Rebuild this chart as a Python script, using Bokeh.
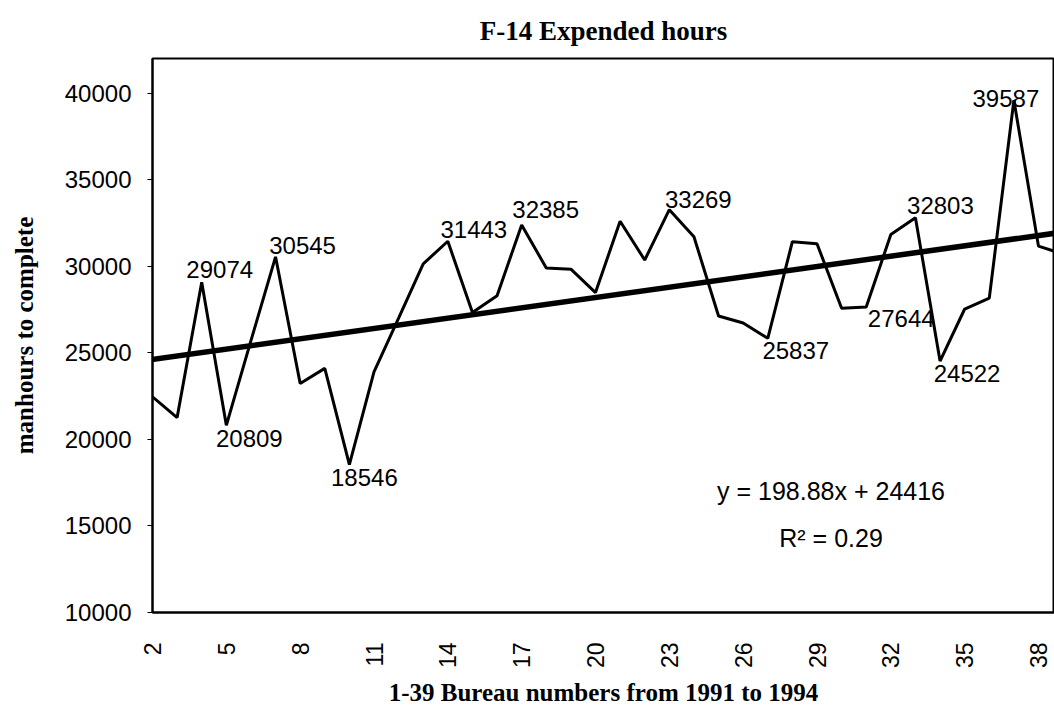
import math
from bokeh.plotting import figure
from bokeh.models import FixedTicker, Slope, Label, ColumnDataSource, Range1d
from bokeh.core.properties import value
from bokeh.embed import file_html
from bokeh.resources import INLINE

# ---- data ----
categories = list(range(2, 40))
hours = [22460, 21260, 29074, 20809, 25700, 30545, 23230, 24100, 18546, 23900,
         27000, 30140, 31443, 27330, 28300, 32385, 29900, 29830, 28480, 32600,
         30360, 33269, 31700, 27130, 26720, 25837, 31420, 31300, 27570, 27644,
         31830, 32803, 24522, 27530, 28160, 39587, 31160, 30700]
labeled_categories = [4, 5, 7, 10, 14, 17, 23, 27, 31, 33, 34, 37]

x_ticks = [2, 5, 8, 11, 14, 17, 20, 23, 26, 29, 32, 35, 38]
x_tick_labels = ["2", "5", "8", "11", "14", "17", "20", "23", "26", "29", "32", "35", "38"]
y_ticks = [10000, 15000, 20000, 25000, 30000, 35000, 40000]
y_tick_labels = ["10000", "15000", "20000", "25000", "30000", "35000", "40000"]

trend_slope = 198.88
trend_intercept = 24416
r_squared = 0.29

# ---- label layout (pixel offsets of each data label from its point) ----
label_dx = [18, 23, 27, 15, 26, 24, 29, 28, 35, 25, 27, -8]
label_dy = [-13, 13, -11, 13, -12, -15, -10, 12, 11, -12, 12, -2]

SANS = "Liberation Sans"
SERIF = "Liberation Serif"

p = figure(width=1054, height=709,
           x_range=Range1d(2, 38.65), y_range=Range1d(10000, 42000),
           output_backend="svg", toolbar_location=None,
           min_border_left=152, min_border_right=0,
           min_border_top=57, min_border_bottom=95)

p.background_fill_color = "white"
p.border_fill_color = "white"
p.outline_line_color = "black"
p.outline_line_width = 2
p.xgrid.grid_line_color = None
p.ygrid.grid_line_color = None

# title
p.title.text = "F-14 Expended hours"
p.title.align = "center"
p.title.text_font = SERIF
p.title.text_font_style = "bold"
p.title.text_font_size = "27px"
p.title.text_color = "black"
p.title.standoff = 26

# x axis
xa = p.xaxis[0]
xa.ticker = FixedTicker(ticks=x_ticks)
xa.major_label_overrides = {t: l for t, l in zip(x_ticks, x_tick_labels)}
xa.major_label_orientation = math.pi / 2
xa.major_tick_out = 0
xa.major_tick_in = 0
xa.minor_tick_out = 0
xa.minor_tick_in = 0
xa.major_label_standoff = 30
xa.major_label_text_font = SANS
xa.major_label_text_font_size = "23px"
xa.major_label_text_color = "black"
xa.axis_line_width = 2
xa.axis_label = "1-39 Bureau numbers from 1991 to 1994"
xa.axis_label_text_font = SERIF
xa.axis_label_text_font_style = "bold"
xa.axis_label_text_font_size = "25px"
xa.axis_label_text_color = "black"
xa.axis_label_standoff = 8

# y axis
ya = p.yaxis[0]
ya.ticker = FixedTicker(ticks=y_ticks)
ya.major_label_overrides = {t: l for t, l in zip(y_ticks, y_tick_labels)}
ya.major_tick_out = 5
ya.major_tick_in = 0
ya.minor_tick_out = 0
ya.minor_tick_in = 0
ya.major_label_standoff = 16
ya.major_label_text_font = SANS
ya.major_label_text_font_size = "24px"
ya.major_label_text_color = "black"
ya.axis_line_width = 2
ya.axis_label = "manhours to complete"
ya.axis_label_text_font = SERIF
ya.axis_label_text_font_style = "bold"
ya.axis_label_text_font_size = "25px"
ya.axis_label_text_color = "black"
ya.axis_label_standoff = 24

# data line
src = ColumnDataSource(dict(x=categories, y=hours))
p.line("x", "y", source=src, line_color="black", line_width=3)

# linear trend (index = category - 1)
p.add_layout(Slope(gradient=trend_slope, y_intercept=trend_intercept - trend_slope,
                   line_color="black", line_width=5.5))

# data labels
lab_y = [hours[categories.index(c)] for c in labeled_categories]
lab_src = ColumnDataSource(dict(x=labeled_categories, y=lab_y,
                                t=[str(v) for v in lab_y],
                                dx=label_dx, dy=label_dy))
p.text(x="x", y="y", text="t", x_offset="dx", y_offset="dy", source=lab_src,
       text_align="center", text_baseline="middle",
       text_font=value(SANS), text_font_size="24px", text_color="black")

# equation
eq_text = "y = %.2fx + %d" % (trend_slope, trend_intercept)
r2_text = "R\u00b2 = %.2f" % r_squared
p.add_layout(Label(x=29.57, y=17000, text=eq_text, text_align="center",
                   text_baseline="middle", text_font=SANS,
                   text_font_size="25px", text_color="black"))
p.add_layout(Label(x=29.57, y=14300, text=r2_text, text_align="center",
                   text_baseline="middle", text_font=SANS,
                   text_font_size="25px", text_color="black"))

open("out.html", "w").write(file_html(p, INLINE))
